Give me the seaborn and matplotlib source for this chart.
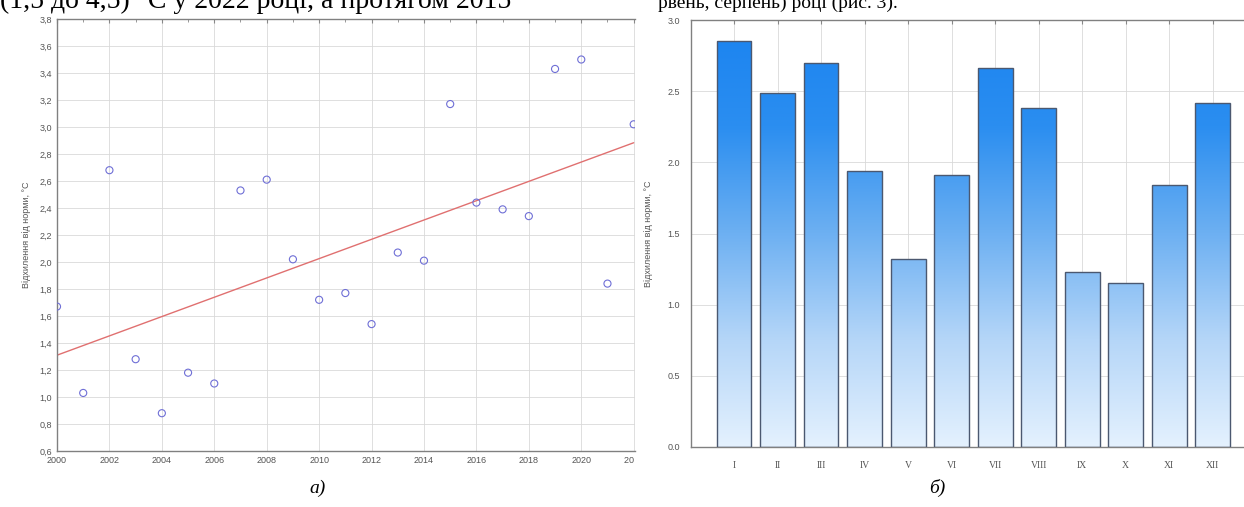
import numpy as np
import pandas as pd
import matplotlib
matplotlib.use("Agg")
import matplotlib.pyplot as plt
from matplotlib.ticker import FuncFormatter, MultipleLocator, FixedLocator
from matplotlib.colors import LinearSegmentedColormap
import seaborn as sns

# ---- data ----
years = [2000, 2001, 2002, 2003, 2004, 2005, 2006, 2007, 2008, 2009, 2010, 2011,
         2012, 2013, 2014, 2015, 2016, 2017, 2018, 2019, 2020, 2021, 2022]
year_anom = [1.67, 1.03, 2.68, 1.28, 0.88, 1.18, 1.10, 2.53, 2.61, 2.02, 1.72, 1.77,
             1.54, 2.07, 2.01, 3.17, 2.44, 2.39, 2.34, 3.43, 3.50, 1.84, 3.02]
months = ["I", "II", "III", "IV", "V", "VI", "VII", "VIII", "IX", "X", "XI", "XII"]
month_anom = [2.85, 2.49, 2.70, 1.94, 1.32, 1.91, 2.66, 2.38, 1.23, 1.15, 1.84, 2.42]
ylabel_text = "Відхилення від норми, °С"
captions = ["а)", "б)"]
top_text_left = "(1,5 до 4,5) °С у 2022 році, а протягом 2015"
top_text_right = "рвень, серпень) році (рис. 3)."

df_year = pd.DataFrame({"year": years, "anom": year_anom})
df_month = pd.DataFrame({"month": months, "anom": month_anom})

sns.set_style("white")
plt.rcParams["font.family"] = ["Liberation Sans", "DejaVu Sans"]

W, H = 1244, 507
fig = plt.figure(figsize=(W / 100, H / 100), dpi=100)

grid_kw = dict(color="#d9d9d9", lw=0.6)
tick_col = "#555555"
spine_col = "#808080"

# ---- left: scatter + trend ----
ax1 = fig.add_axes([57 / W, 1 - 451 / H, (635 - 57) / W, (451 - 19) / H])
sns.scatterplot(data=df_year, x="year", y="anom", ax=ax1, marker="o", s=26,
                facecolor="none", edgecolor="#6f6fd6", linewidth=0.8, zorder=3)
sns.regplot(data=df_year, x="year", y="anom", ax=ax1, scatter=False, ci=None,
            line_kws=dict(color="#e07070", lw=1.0), truncate=True)
ax1.set_xlim(2000, 2022.05)
ax1.set_ylim(0.6, 3.8)
xt = list(range(2000, 2023, 2))
ax1.xaxis.set_major_locator(FixedLocator(xt))
ax1.set_xticklabels([str(y) if y < 2022 else "20\u2007\u2007" for y in xt])
ax1.xaxis.set_minor_locator(MultipleLocator(1))
ax1.yaxis.set_major_locator(MultipleLocator(0.2))
ax1.yaxis.set_major_formatter(FuncFormatter(lambda v, p: f"{v:.1f}".replace(".", ",")))
ax1.grid(True, which="major", **grid_kw)
ax1.set_xlabel("")
ax1.set_ylabel(ylabel_text, fontsize=6.5, color="#555555", labelpad=6)
ax1.tick_params(axis="both", which="both", direction="in", labelsize=6.5,
                labelcolor=tick_col, color="#888888", top=True, right=False)
ax1.tick_params(which="major", length=3)
ax1.tick_params(which="minor", length=2)
for s in ["left", "bottom", "top"]:
    ax1.spines[s].set_color(spine_col)
    ax1.spines[s].set_linewidth(1.0)
ax1.spines["right"].set_visible(False)

# ---- right: gradient bars ----
ax2 = fig.add_axes([691 / W, 1 - 447 / H, (W - 691) / W, (447 - 20) / H])
sns.barplot(data=df_month, x="month", y="anom", ax=ax2, width=0.8,
            color="#3d97f0", edgecolor="#4b5870", linewidth=1.0, zorder=3)
ax2.set_xlim(-0.99, 11.72)
ax2.set_ylim(0, 3.0)
cmap = LinearSegmentedColormap.from_list(
    "blu", ["#e4f1fe", "#b5d6f8", "#6db0f2", "#2b8ef0", "#1a83f0"])
grad = np.linspace(0, 1, 256).reshape(-1, 1)
for p in list(ax2.patches):
    x0, w, h = p.get_x(), p.get_width(), p.get_height()
    im = ax2.imshow(grad, cmap=cmap, vmin=0, vmax=1, origin="lower", aspect="auto",
                    extent=[x0, x0 + w, 0, 3.0], zorder=2.5, interpolation="bilinear")
    im.set_clip_path(p)
    p.set_facecolor("none")
ax2.set_xlim(-0.99, 11.72)
ax2.set_ylim(0, 3.0)
ax2.yaxis.set_major_locator(MultipleLocator(0.5))
ax2.yaxis.set_major_formatter(FuncFormatter(lambda v, p: f"{v:.1f}"))
ax2.grid(True, which="major", **grid_kw)
ax2.set_axisbelow(True)
ax2.set_xlabel("")
ax2.set_ylabel(ylabel_text, fontsize=6.5, color="#555555", labelpad=10)
ax2.tick_params(axis="y", which="both", direction="in", labelsize=6.5,
                labelcolor=tick_col, color="#888888", length=3, pad=8)
ax2.tick_params(axis="x", direction="in", labelsize=7, labelcolor=tick_col,
                color="#888888", length=3, top=True, pad=10)
for lbl in ax2.get_xticklabels():
    lbl.set_fontfamily(["Liberation Serif", "DejaVu Serif"])
for s in ["left", "bottom", "top"]:
    ax2.spines[s].set_color(spine_col)
    ax2.spines[s].set_linewidth(1.0)
ax2.spines["right"].set_visible(False)

# ---- captions and clipped document text ----
cap_font = dict(family=["Liberation Serif", "DejaVu Serif"], style="italic", fontsize=14, color="black")
fig.text(318 / W, 1 - 488 / H, captions[0], ha="center", va="center", **cap_font)
fig.text(937 / W, 1 - 488 / H, captions[1], ha="center", va="center", **cap_font)
doc_font = dict(family=["Liberation Serif", "DejaVu Serif"], color="black")
fig.text(0, 1 - 8 / H, top_text_left, ha="left", va="baseline", fontsize=20, **doc_font)
fig.text(658 / W, 1 - 8 / H, top_text_right, ha="left", va="baseline", fontsize=14, **doc_font)

fig.savefig("out.png", dpi=100, facecolor="white")
